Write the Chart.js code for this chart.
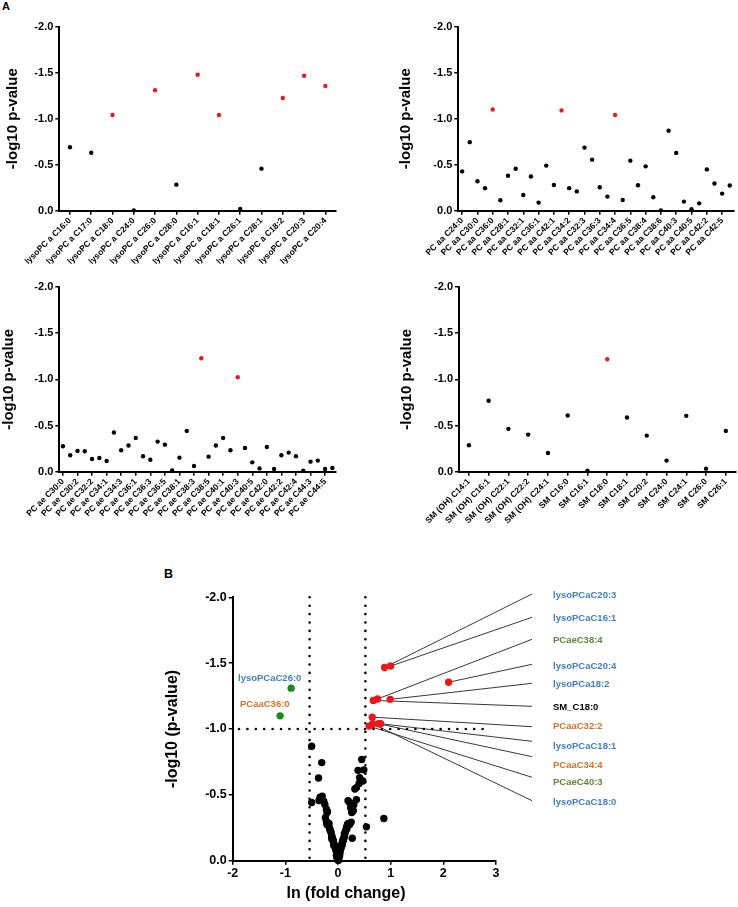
<!DOCTYPE html>
<html><head><meta charset="utf-8">
<script src="https://cdn.jsdelivr.net/npm/chart.js@4.4.1/dist/chart.umd.min.js"></script>
<style>
body{margin:0;background:#fff;width:738px;height:907px;position:relative;overflow:hidden;font-family:Arial,"Liberation Sans",sans-serif;}
canvas{position:absolute;}
.t{position:absolute;font-weight:bold;white-space:nowrap;line-height:1;}
</style></head><body>
<div class="t" style="left:2px;top:1px;font-size:11px;">A</div>
<div class="t" style="left:164px;top:568px;font-size:12.5px;">B</div>
<canvas id="c1" width="369" height="285" style="left:0;top:0"></canvas>
<canvas id="c2" width="369" height="285" style="left:369px;top:0"></canvas>
<canvas id="c3" width="369" height="300" style="left:0;top:270px"></canvas>
<canvas id="c4" width="369" height="300" style="left:369px;top:270px"></canvas>
<canvas id="c5" width="578" height="322" style="left:160px;top:585px"></canvas>
<div id="xt" class="t" style="font-size:16px;left:346px;top:893px;transform:translate(-50%,-50%);">ln (fold change)</div>
<script>
// ---------- DATA ----------
const lysoLabels = ['lysoPC a C16:0','lysoPC a C17:0','lysoPC a C18:0','lysoPC a C24:0','lysoPC a C26:0','lysoPC a C28:0','lysoPC a C16:1','lysoPC a C18:1','lysoPC a C26:1','lysoPC a C28:1','lysoPC a C18:2','lysoPC a C20:3','lysoPC a C20:4'];
const lysoValues = [-0.69,-0.63,-1.04,-0.004,-1.31,-0.283,-1.478,-1.04,-0.018,-0.457,-1.225,-1.467,-1.355];

const pcaaLabels = ['C24:0','C26:0','C30:0','C32:0','C36:0','C38:0','C28:1','C30:2','C32:1','C34:1','C36:1','C40:1','C42:1','C32:2','C34:2','C36:2','C32:3','C34:3','C36:3','C38:3','C34:4','C36:4','C36:5','C36:6','C38:4','C38:5','C38:6','C40:2','C40:3','C40:4','C40:5','C40:6','C42:2','C42:4','C42:5','C42:6'].map(s => 'PC aa ' + s);
const pcaaValues = [-0.427,-0.745,-0.32,-0.245,-1.10,-0.113,-0.38,-0.456,-0.17,-0.372,-0.088,-0.49,-0.28,-1.09,-0.245,-0.21,-0.686,-0.555,-0.255,-0.153,-1.04,-0.117,-0.544,-0.277,-0.482,-0.146,-0.004,-0.869,-0.628,-0.099,-0.015,-0.08,-0.449,-0.296,-0.186,-0.274];

const pcaeLabels = ['C30:0','C30:1','C30:2','C32:1','C32:2','C34:0','C34:1','C34:2','C34:3','C36:0','C36:1','C36:2','C36:3','C36:4','C36:5','C38:0','C38:1','C38:2','C38:3','C38:4','C38:5','C38:6','C40:1','C40:2','C40:3','C40:4','C40:5','C40:6','C42:0','C42:1','C42:2','C42:3','C42:4','C42:5','C44:3','C44:4','C44:5','C44:6'].map(s => 'PC ae ' + s);
const pcaeValues = [-0.275,-0.178,-0.225,-0.221,-0.138,-0.149,-0.116,-0.424,-0.232,-0.283,-0.366,-0.167,-0.13,-0.326,-0.293,-0.014,-0.152,-0.442,-0.062,-1.228,-0.163,-0.283,-0.366,-0.232,-1.022,-0.257,-0.101,-0.036,-0.268,-0.029,-0.178,-0.207,-0.167,-0.011,-0.109,-0.12,-0.029,-0.04];

const smLabels = ['SM (OH) C14:1','SM (OH) C16:1','SM (OH) C22:1','SM (OH) C22:2','SM (OH) C24:1','SM C16:0','SM C16:1','SM C18:0','SM C18:1','SM C20:2','SM C24:0','SM C24:1','SM C26:0','SM C26:1'];
const smValues = [-0.286,-0.768,-0.464,-0.402,-0.203,-0.609,-0.011,-1.217,-0.587,-0.391,-0.12,-0.605,-0.033,-0.442];

const yTicks = [-2.0,-1.5,-1.0,-0.5,0.0];
const volcanoXTicks = [-2,-1,0,1,2,3];

// volcano: ln(fold change) and -log10 p
const upNames = ['lysoPCaC20:3','lysoPCaC16:1','PCaeC38:4','lysoPCaC20:4','lysoPCa18:2','SM_C18:0','PCaaC32:2','lysoPCaC18:1','PCaaC34:4','PCaeC40:3','lysoPCaC18:0'];
const upX = [0.885,1.00,0.75,2.10,0.99,0.67,0.65,0.81,0.77,0.59,0.66];
const upY = [-1.467,-1.478,-1.228,-1.355,-1.225,-1.217,-1.09,-1.04,-1.04,-1.022,-1.04];
const downNames = ['lysoPCaC26:0','PCaaC36:0'];
const downX = [-0.89,-1.10];
const downY = [-1.31,-1.10];
const nsX = [-0.50,0.45,-0.31,0.49,0.38,0.41,-0.37,0.44,0.47,0.40,0.35,0.32,-0.30,-0.34,0.35,-0.36,0.19,-0.27,-0.50,0.22,-0.25,0.30,0.24,-0.22,0.29,-0.20,-0.21,0.26,-0.24,0.87,-0.22,0.25,-0.19,0.21,-0.20,0.20,-0.17,0.18,-0.21,0.22,-0.18,0.54,0.16,-0.16,0.17,-0.15,0.15,-0.14,0.14,-0.13,0.13,0.12,-0.12,0.12,-0.11,0.27,-0.12,0.10,-0.10,0.10,-0.09,0.09,-0.09,0.08,-0.08,0.08,-0.07,0.07,-0.08,0.06,-0.06,0.06,-0.05,0.05,-0.04,0.04,-0.03,0.03,-0.02,0.02,-0.02,0.01,-0.01,0.01,0.00,-0.01,0.00,0.01];
const nsY = [-0.869,-0.768,-0.745,-0.690,-0.686,-0.630,-0.628,-0.609,-0.605,-0.587,-0.555,-0.544,-0.490,-0.482,-0.464,-0.457,-0.456,-0.449,-0.442,-0.442,-0.427,-0.424,-0.402,-0.391,-0.380,-0.372,-0.366,-0.366,-0.326,-0.320,-0.296,-0.293,-0.286,-0.283,-0.283,-0.283,-0.280,-0.277,-0.275,-0.274,-0.268,-0.257,-0.255,-0.245,-0.245,-0.232,-0.232,-0.225,-0.221,-0.210,-0.207,-0.203,-0.186,-0.178,-0.178,-0.170,-0.167,-0.167,-0.163,-0.153,-0.152,-0.149,-0.146,-0.138,-0.130,-0.120,-0.120,-0.117,-0.116,-0.113,-0.109,-0.101,-0.099,-0.088,-0.080,-0.062,-0.040,-0.036,-0.033,-0.029,-0.029,-0.018,-0.015,-0.014,-0.011,-0.011,-0.004,-0.004];
const foldThresholds = [-0.54, 0.52];
const pThreshold = -1.0;
const sigLevel = -1.0;

// ---------- LAYOUT / STYLE ----------
const FONT = 'Arial, "Liberation Sans", sans-serif';
const RED = '#e8191c', GREEN = '#1c8a22';
const CLASS_COLORS = { lyso: '#3f7fc4', PCaa: '#d4702a', PCae: '#5a8b35', SM: '#000' };
const V_ORIGIN = { x: 160, y: 585 };
const calloutLabelY = [595, 617.7, 640.3, 665.7, 684, 706.7, 726, 746, 764.7, 782.3, 801.7];
const calloutLineY = [594, 617.3, 639.3, 664.3, 683.3, 706.3, 726.7, 741.3, 756.7, 777.3, 800.7];
const calloutLineX = 532, calloutTextX = 553;
const downLabelPos = [{ x: 238, y: 677.5 }, { x: 240, y: 704 }];

Chart.defaults.font.family = FONT;
Chart.defaults.color = '#000';

function colorFor(name) {
  if (name.startsWith('lyso')) return CLASS_COLORS.lyso;
  if (name.startsWith('PCaa')) return CLASS_COLORS.PCaa;
  if (name.startsWith('PCae')) return CLASS_COLORS.PCae;
  return CLASS_COLORS.SM;
}

const axisGrid = (extra) => Object.assign({ display: true, drawOnChartArea: false, drawTicks: true, tickLength: 4, lineWidth: 1.5, color: '#000' }, extra || {});
const axisBorder = { display: true, color: '#000', width: 2 };

function panel(id, labels, values, cfg) {
  return new Chart(document.getElementById(id), {
    type: 'line',
    data: { labels, datasets: [{
      data: values, showLine: false, clip: false,
      pointRadius: 2.2, pointHoverRadius: 2.2, pointBorderWidth: 0,
      pointBackgroundColor: values.map(v => v <= sigLevel ? RED : '#000'),
      pointBorderColor: values.map(v => v <= sigLevel ? RED : '#000')
    }] },
    options: {
      responsive: false, animation: false, devicePixelRatio: 1, events: [],
      layout: { padding: { left: 0, top: cfg.padTop, right: cfg.padRight, bottom: 0 } },
      plugins: { legend: { display: false }, tooltip: { enabled: false } },
      scales: {
        x: {
          type: 'category', offset: true,
          grid: axisGrid({ offset: false, color: c => (!cfg.everyOther || c.index % 2 === 0) ? '#000' : 'rgba(0,0,0,0)' }),
          border: axisBorder,
          ticks: { autoSkip: false, maxRotation: 45, minRotation: 45, padding: 1, font: { size: 8.5, weight: 'bold' },
            callback: function (v, i) { return (!cfg.everyOther || i % 2 === 0) ? this.getLabelForValue(v) : ''; } },
          afterFit: s => { s.height = cfg.xHeight; }
        },
        y: {
          type: 'linear', min: yTicks[0], max: yTicks[yTicks.length - 1], reverse: true,
          grid: axisGrid(), border: axisBorder,
          afterBuildTicks: s => { s.ticks = yTicks.map(v => ({ value: v })); },
          ticks: { padding: 2, font: { size: 11, weight: 'bold' }, callback: v => Number(v).toFixed(1) },
          title: { display: true, text: '-log10 p-value', font: { size: 15, weight: 'bold' }, padding: { top: cfg.titlePad, bottom: 0 } },
          afterFit: s => { s.width = cfg.yWidth; }
        }
      }
    }
  });
}

panel('c1', lysoLabels, lysoValues, { padTop: 26.7, padRight: 33, yWidth: 59.3, xHeight: 74.3, titlePad: 4, everyOther: false });
panel('c2', pcaaLabels, pcaaValues, { padTop: 26.7, padRight: 2.3, yWidth: 89.3, xHeight: 74.3, titlePad: 27.7, everyOther: true });
panel('c3', pcaeLabels, pcaeValues, { padTop: 17, padRight: 33, yWidth: 59.3, xHeight: 98.3, titlePad: 0, everyOther: true });
panel('c4', smLabels, smValues, { padTop: 17, padRight: 2.3, yWidth: 90, xHeight: 98.3, titlePad: 29.3, everyOther: false });

// ---------- VOLCANO ----------
const guides = {
  id: 'guides',
  beforeDatasetsDraw(chart) {
    const { ctx, scales: { x, y } } = chart;
    ctx.save();
    ctx.strokeStyle = '#000'; ctx.lineWidth = 2.6; ctx.lineCap = 'round'; ctx.setLineDash([0, 8.4]);
    for (const t of foldThresholds) {
      ctx.beginPath();
      ctx.moveTo(x.getPixelForValue(t), y.getPixelForValue(yTicks[0]));
      ctx.lineTo(x.getPixelForValue(t), y.getPixelForValue(0));
      ctx.stroke();
    }
    ctx.beginPath();
    ctx.moveTo(x.getPixelForValue(-1.88), y.getPixelForValue(pThreshold));
    ctx.lineTo(x.getPixelForValue(2.9), y.getPixelForValue(pThreshold));
    ctx.stroke();
    ctx.setLineDash([]); ctx.lineCap = 'butt'; ctx.lineWidth = 0.9; ctx.strokeStyle = '#222';
    upX.forEach((vx, i) => {
      ctx.beginPath();
      ctx.moveTo(x.getPixelForValue(vx), y.getPixelForValue(upY[i]));
      ctx.lineTo(calloutLineX - V_ORIGIN.x, calloutLineY[i] - V_ORIGIN.y);
      ctx.stroke();
    });
    ctx.restore();
  }
};

const pts = (xs, ys) => xs.map((v, i) => ({ x: v, y: ys[i] }));
const ds = (data, color) => ({ data, backgroundColor: color, borderColor: color, pointRadius: 3.7, pointHoverRadius: 3.7, borderWidth: 0, clip: false });

new Chart(document.getElementById('c5'), {
  type: 'scatter',
  data: { datasets: [ds(pts(nsX, nsY), '#000'), ds(pts(upX, upY), RED), ds(pts(downX, downY), GREEN)] },
  options: {
    responsive: false, animation: false, devicePixelRatio: 1, events: [],
    layout: { padding: { left: 0, top: 12.3, right: 242, bottom: 0 } },
    plugins: { legend: { display: false }, tooltip: { enabled: false } },
    scales: {
      x: {
        type: 'linear', min: volcanoXTicks[0], max: volcanoXTicks[volcanoXTicks.length - 1],
        grid: axisGrid(), border: axisBorder,
        afterBuildTicks: s => { s.ticks = volcanoXTicks.map(v => ({ value: v })); },
        ticks: { padding: 1, font: { size: 12.5, weight: 'bold' }, callback: v => String(v) },
        afterFit: s => { s.height = 46.3; }
      },
      y: {
        type: 'linear', min: yTicks[0], max: yTicks[yTicks.length - 1], reverse: true,
        grid: axisGrid(), border: axisBorder,
        afterBuildTicks: s => { s.ticks = yTicks.map(v => ({ value: v })); },
        ticks: { padding: 2, font: { size: 12.5, weight: 'bold' }, callback: v => Number(v).toFixed(1) },
        title: { display: true, text: '-log10 (p-value)', font: { size: 16, weight: 'bold' }, padding: { top: 3, bottom: 0 } },
        afterFit: s => { s.width = 72.7; }
      }
    }
  },
  plugins: [guides]
});

// callout labels (real text)
function addLabel(text, x, y, color) {
  const d = document.createElement('div');
  d.className = 't';
  d.textContent = text;
  d.style.cssText = `left:${x}px;top:${y}px;font-size:9.5px;color:${color};transform:translateY(-50%);`;
  document.body.appendChild(d);
}
upNames.forEach((n, i) => addLabel(n, calloutTextX, calloutLabelY[i], colorFor(n)));
downNames.forEach((n, i) => addLabel(n, downLabelPos[i].x, downLabelPos[i].y, colorFor(n)));
</script>
</body></html>
